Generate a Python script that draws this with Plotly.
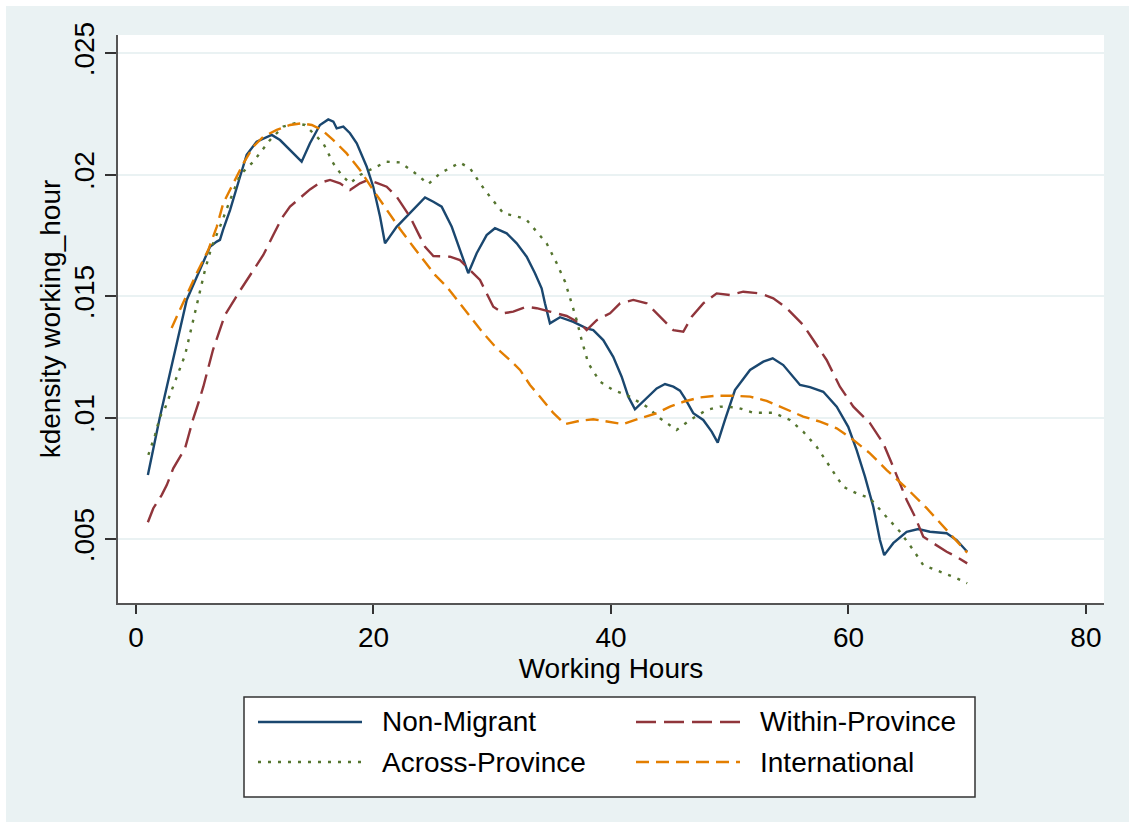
import plotly.graph_objects as go

# ---------------- data ----------------
series_names = ["Non-Migrant", "Within-Province", "Across-Province", "International"]

nm_x = [1.0, 2.0, 4.27, 5.39, 6.23, 6.80, 7.07, 7.33, 7.92, 8.76, 9.32, 10.16, 11.01, 11.43,
        12.13, 12.97, 13.95, 14.65, 15.49, 16.19, 16.62, 16.90, 17.46, 18.02, 18.59, 19.43,
        19.98, 20.55, 20.97, 21.95, 23.07, 24.34, 25.04, 25.74, 26.59, 27.28, 27.98, 28.69,
        29.53, 30.23, 31.22, 32.06, 32.90, 33.60, 34.16, 34.44, 34.86, 35.71, 36.83, 37.95,
        38.51, 39.35, 40.19, 40.90, 41.46, 42.02, 43.01, 43.85, 44.55, 45.25, 45.81, 46.23,
        46.93, 47.77, 48.48, 48.99, 49.60, 50.44, 51.71, 52.83, 53.62, 54.51, 55.92, 56.76,
        57.88, 59.01, 59.98, 60.69, 61.39, 62.09, 62.65, 63.01, 63.77, 64.90, 65.88, 66.86,
        68.27, 69.11, 70.0]
nm_y = [0.00765, 0.0100, 0.01485, 0.01608, 0.01704, 0.01725, 0.01732, 0.01773, 0.01855,
        0.01992, 0.02082, 0.02136, 0.02157, 0.02164, 0.02143, 0.02102, 0.02054, 0.0213,
        0.02205, 0.02228, 0.02219, 0.02191, 0.02198, 0.02171, 0.0213, 0.02033, 0.01951,
        0.01828, 0.01718, 0.01786, 0.01842, 0.01907, 0.01889, 0.01869, 0.01786, 0.0169,
        0.01595, 0.01677, 0.01752, 0.0178, 0.01759, 0.01718, 0.01663, 0.01595, 0.01533,
        0.01471, 0.01389, 0.01414, 0.01395, 0.01368, 0.01361, 0.0132, 0.01251, 0.01169,
        0.01087, 0.01035, 0.0108, 0.01121, 0.01139, 0.01128, 0.01112, 0.0108, 0.01019,
        0.00991, 0.00943, 0.00898, 0.00991, 0.01114, 0.01197, 0.01231, 0.01245, 0.01217,
        0.01135, 0.01126, 0.01107, 0.01046, 0.00963, 0.00867, 0.00758, 0.00634, 0.00497,
        0.00435, 0.00484, 0.00531, 0.00542, 0.00531, 0.00525, 0.00497, 0.00449]

wp_x = [1.0, 1.46, 2.16, 2.59, 3.14, 3.71, 4.13, 4.40, 4.83, 5.25, 5.67, 6.48, 7.49, 8.61,
        9.32, 9.88, 10.72, 11.56, 12.27, 12.97, 13.81, 14.65, 15.49, 16.34, 17.18, 18.02,
        18.86, 19.56, 20.27, 21.11, 21.95, 22.51, 23.07, 23.77, 24.34, 25.04, 26.44, 27.28,
        28.13, 28.97, 29.53, 30.09, 30.93, 31.77, 32.90, 33.74, 34.86, 36.27, 37.39, 37.95,
        38.80, 39.92, 40.76, 41.88, 43.01, 43.85, 44.69, 45.25, 46.09, 46.80, 47.77, 48.90,
        50.02, 51.14, 52.55, 53.67, 54.80, 56.19, 57.04, 58.16, 59.28, 60.41, 61.81, 62.93,
        63.64, 64.19, 64.90, 65.60, 66.30, 67.14, 68.27, 69.11, 70.0]
wp_y = [0.0057, 0.00628, 0.00682, 0.00723, 0.00792, 0.0084, 0.00874, 0.00922, 0.00998,
        0.0106, 0.01128, 0.01279, 0.01423, 0.01512, 0.01567, 0.01608, 0.0167, 0.01752,
        0.01821, 0.01869, 0.01903, 0.0194, 0.01967, 0.01979, 0.01965, 0.01937, 0.01965,
        0.01979, 0.01967, 0.01951, 0.0191, 0.01869, 0.01828, 0.01759, 0.01704, 0.01666,
        0.01663, 0.01649, 0.01608, 0.01567, 0.01512, 0.01457, 0.0143, 0.01437, 0.01457,
        0.01451, 0.01437, 0.01419, 0.01389, 0.01361, 0.01402, 0.0143, 0.01471, 0.01485,
        0.01471, 0.0143, 0.01389, 0.01361, 0.01354, 0.01416, 0.01471, 0.01512, 0.01505,
        0.01519, 0.01512, 0.01492, 0.01451, 0.01382, 0.0132, 0.01238, 0.01128, 0.01046,
        0.00978, 0.00895, 0.00813, 0.00744, 0.00662, 0.00593, 0.00511, 0.00484, 0.00449,
        0.00428, 0.00401]

ap_x = [1.04, 1.60, 2.02, 2.44, 3.01, 3.28, 4.13, 5.25, 5.81, 6.37, 7.07, 7.92, 8.76, 9.88,
        11.28, 12.40, 13.39, 14.23, 14.93, 15.77, 16.62, 17.32, 18.02, 18.86, 19.98, 21.11,
        22.23, 23.35, 24.62, 25.60, 27.28, 28.13, 28.97, 29.81, 30.93, 32.34, 32.90, 33.74,
        34.58, 35.43, 36.13, 36.69, 37.11, 37.53, 38.09, 39.07, 40.19, 41.32, 43.01, 44.13,
        45.53, 46.65, 48.06, 49.18, 50.58, 51.98, 53.67, 55.07, 56.19, 57.32, 58.44, 59.56,
        60.69, 61.81, 62.93, 64.34, 65.46, 66.30, 67.70, 69.11, 70.0]
ap_y = [0.00847, 0.00929, 0.01004, 0.01039, 0.01114, 0.01149, 0.01258, 0.01492, 0.01608,
        0.01704, 0.01786, 0.01896, 0.01999, 0.02054, 0.02143, 0.02198, 0.02212, 0.02205,
        0.02171, 0.0213, 0.02047, 0.01999, 0.01965, 0.01999, 0.02027, 0.02054, 0.02051,
        0.02013, 0.01962, 0.02006, 0.0205, 0.02027, 0.01965, 0.0191, 0.01842, 0.01825,
        0.01814, 0.01766, 0.01718, 0.01636, 0.0156, 0.01471, 0.01402, 0.0132, 0.01224,
        0.01149, 0.01114, 0.01094, 0.01046, 0.00998, 0.0095, 0.00991, 0.01032, 0.01046,
        0.01043, 0.01021, 0.01021, 0.00991, 0.00943, 0.00881, 0.00799, 0.00716, 0.00689,
        0.00669, 0.00607, 0.00531, 0.00456, 0.00394, 0.00367, 0.0034, 0.00319]

in_x = [3.0, 4.13, 5.11, 6.09, 6.80, 7.35, 8.19, 9.04, 9.88, 10.72, 11.85, 12.97, 13.95,
        14.80, 15.64, 16.62, 17.74, 18.86, 19.98, 21.11, 22.23, 23.35, 24.19, 25.18, 26.16,
        27.28, 28.40, 29.25, 30.37, 31.49, 32.34, 33.18, 34.02, 35.14, 36.13, 37.39, 38.51,
        39.92, 41.04, 42.44, 43.85, 44.97, 46.09, 47.49, 48.90, 50.30, 51.71, 53.11, 54.51,
        56.19, 57.60, 59.01, 60.41, 61.81, 63.22, 64.90, 66.59, 67.98, 69.11, 70.0]
in_y = [0.0137, 0.01492, 0.01595, 0.01691, 0.01786, 0.01883, 0.01965, 0.02047, 0.02116,
        0.02157, 0.02185, 0.02205, 0.02212, 0.02205, 0.02185, 0.02143, 0.02088, 0.0202,
        0.01937, 0.01855, 0.01777, 0.01704, 0.01649, 0.01588, 0.0154, 0.01471, 0.01402,
        0.01348, 0.01286, 0.01238, 0.01197, 0.01135, 0.01087, 0.0102, 0.00974, 0.00988,
        0.00994, 0.00984, 0.00974, 0.00998, 0.01019, 0.01046, 0.01066, 0.01084, 0.01091,
        0.01091, 0.01087, 0.0107, 0.01039, 0.01005, 0.00984, 0.00957, 0.00909, 0.00854,
        0.00785, 0.0071, 0.00628, 0.00552, 0.0049, 0.00445]

x_tickvals = [0, 20, 40, 60, 80]
y_tickvals = [0.005, 0.01, 0.015, 0.02, 0.025]
y_ticktext = [".005", ".01", ".015", ".02", ".025"]

x_title = "Working Hours"
y_title = "kdensity working_hour"

# ---------------- styles ----------------
FONT = "Liberation Sans, Arial, sans-serif"
FS = 28
BG = "#EAF2F3"
colors = ["#1A476F", "#90353B", "#55752F", "#E37E00"]
dashes = ["solid", "20px,8px", "3px,7px", "13px,7px"]
xs = [nm_x, wp_x, ap_x, in_x]
ys = [nm_y, wp_y, ap_y, in_y]

W, H = 1129, 822
L, R, T, B = 118, 1104, 35, 603   # plot area in pixels

def px(xp):
    return (xp - L) / (R - L)

def py(yp):
    return (B - yp) / (B - T)

fig = go.Figure()
for name, x, y, c, d in zip(series_names, xs, ys, colors, dashes):
    fig.add_trace(go.Scatter(x=x, y=y, mode="lines", name=name,
                             line=dict(color=c, width=2.4, dash=d),
                             showlegend=False))

shapes = [
    # thin white frame at top/left of the graph region
    dict(type="rect", xref="paper", yref="paper", x0=px(0), x1=px(6), y0=py(H), y1=py(0),
         fillcolor="white", line=dict(width=0), layer="below"),
    dict(type="rect", xref="paper", yref="paper", x0=px(0), x1=px(W), y0=py(6), y1=py(0),
         fillcolor="white", line=dict(width=0), layer="below"),
    # legend box
    dict(type="rect", xref="paper", yref="paper", x0=px(244), x1=px(975), y0=py(797), y1=py(697),
         fillcolor="white", line=dict(color="#333333", width=1.5)),
]
annotations = []
legend_pos = [(258, 722), (636, 722), (258, 762), (636, 762)]
for (lx, ly), name, c, d in zip(legend_pos, series_names, colors, dashes):
    shapes.append(dict(type="line", xref="paper", yref="paper", x0=px(lx), x1=px(lx + 104),
                       y0=py(ly), y1=py(ly), line=dict(color=c, width=2.4, dash=d)))
    annotations.append(dict(xref="paper", yref="paper", x=px(lx + 122), y=py(ly), text=name,
                            showarrow=False, xanchor="left", yanchor="middle",
                            font=dict(family=FONT, size=FS, color="black")))

fig.update_layout(
    width=W, height=H,
    margin=dict(l=L, r=W - R, t=T, b=H - B, pad=0),
    paper_bgcolor=BG, plot_bgcolor="white",
    font=dict(family=FONT, size=FS, color="black"),
    shapes=shapes, annotations=annotations,
    xaxis=dict(range=[-1.516, 81.52], tickvals=x_tickvals, ticks="outside", ticklen=9,
               tickwidth=1.5, tickcolor="#333333", showgrid=False, zeroline=False,
               showline=True, linecolor="#555555", linewidth=1.5,
               tickfont=dict(family=FONT, size=FS, color="black"),
               title=dict(text=x_title, standoff=0, font=dict(family=FONT, size=FS, color="black"))),
    yaxis=dict(range=[0.002379, 0.025753], tickvals=y_tickvals, ticktext=y_ticktext,
               ticks="outside", ticklen=11, tickwidth=1.5, tickcolor="#333333",
               tickangle=-90, showgrid=True, gridcolor=BG, gridwidth=2, zeroline=False,
               showline=True, linecolor="#555555", linewidth=1.5,
               tickfont=dict(family=FONT, size=FS, color="black"),
               title=dict(text=y_title, standoff=0, font=dict(family=FONT, size=FS, color="black"))),
)

fig.write_html("out.html")
